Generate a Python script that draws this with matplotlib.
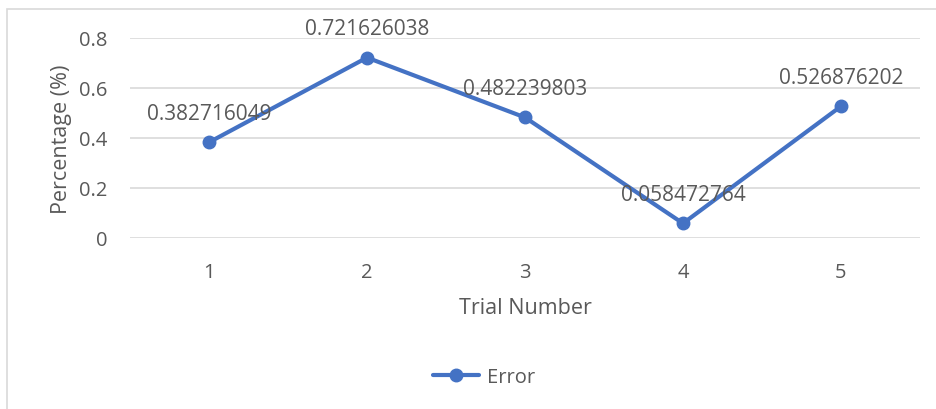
import matplotlib.pyplot as plt
from matplotlib.patches import Rectangle

plt.rcParams['font.family'] = ['Open Sans', 'DejaVu Sans']

# Data
trials = [1, 2, 3, 4, 5]
error = [0.382716049, 0.721626038, 0.482239803, 0.058472764, 0.526876202]
labels = ['0.382716049', '0.721626038', '0.482239803', '0.058472764', '0.526876202']
yticks = [0, 0.2, 0.4, 0.6, 0.8]

blue = '#4472C4'
grey = '#595959'
gridc = '#D9D9D9'

fig = plt.figure(figsize=(9.37, 4.1), dpi=100)
ax = fig.add_axes([130 / 937, 1 - 239 / 410, 790 / 937, 200 / 410])

# chart area border
fig.patches.append(Rectangle((7 / 937, -0.01), 1.0, 1 - 10 / 410 + 0.01,
                             transform=fig.transFigure, fill=False,
                             edgecolor=gridc, linewidth=1.2))

ax.plot(trials, error, color=blue, linewidth=3, marker='o', markersize=9,
        label='Error', solid_capstyle='round', zorder=3)

for x, y, t in zip(trials, error, labels):
    ax.annotate(t, (x, y), xytext=(0, 21), textcoords='offset points',
                ha='center', va='center', fontsize=15, color=grey, zorder=4)

ax.set_xlim(0.5, 5.5)
ax.set_ylim(0, 0.8)
ax.set_xticks(trials)
ax.set_xticklabels([str(t) for t in trials])
ax.set_yticks(yticks)
ax.set_yticklabels(['0', '0.2', '0.4', '0.6', '0.8'])
ax.tick_params(length=0, labelsize=14.5, colors=grey)
ax.tick_params(axis='y', pad=16)
ax.tick_params(axis='x', pad=17)
ax.grid(axis='y', color=gridc, linewidth=1.2)
ax.set_axisbelow(True)
for s in ax.spines.values():
    s.set_visible(False)

ax.set_xlabel('Trial Number', fontsize=15.5, color=grey, labelpad=11)
ax.set_ylabel('Percentage (%)', fontsize=15.5, color=grey, labelpad=5)

fig.legend(loc='center', bbox_to_anchor=(484 / 937, 1 - 378 / 410), frameon=False,
           fontsize=14.5, labelcolor=grey, handlelength=2.3, handletextpad=0.4)

fig.savefig('out.png', dpi=100)
